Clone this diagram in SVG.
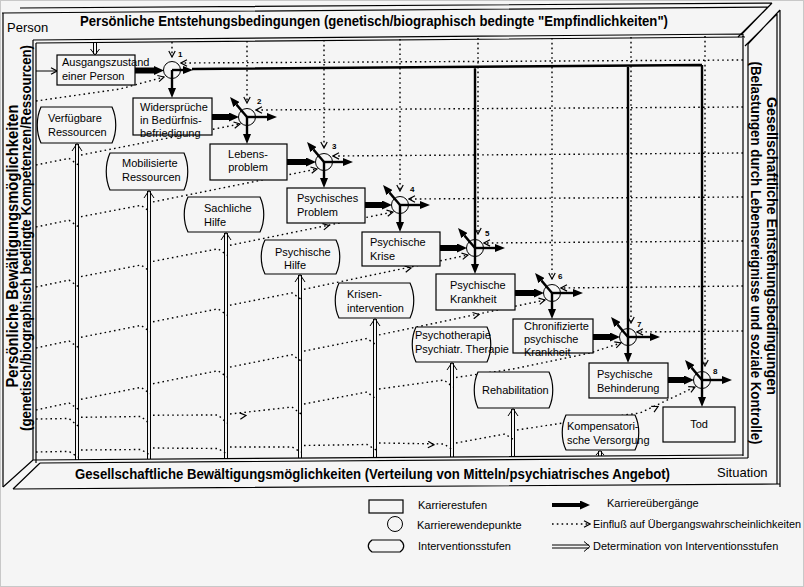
<svg xmlns="http://www.w3.org/2000/svg" width="804" height="587" viewBox="0 0 804 587">
<defs>
<style>
.k{fill:#f5f5f5;stroke:#000;stroke-width:1.2}
.t{font-family:"Liberation Sans",Arial,sans-serif;font-size:11px;fill:#000}
.n{font-family:"Liberation Sans",Arial,sans-serif;font-size:8px;font-weight:bold;fill:#000}
.h{font-family:"Liberation Sans",Arial,sans-serif;font-weight:bold;fill:#000}
.r{font-family:"Liberation Sans",Arial,sans-serif;font-size:13px;fill:#000}
.fr{fill:none;stroke:#000;stroke-width:1.2}
.dot{fill:none;stroke:#000;stroke-width:1.4;stroke-dasharray:1.6 3.2}
.dv{marker-end:url(#dv)}
.dm{fill:none;stroke:none;marker-end:url(#dv)}
.bar{fill:none;stroke:#000;stroke-width:6;marker-end:url(#ahb)}
.arr{fill:none;stroke:#000;stroke-width:2.4;marker-end:url(#ah)}
.ln{fill:none;stroke:#000;stroke-width:2.4}
.thin{fill:none;stroke:#000;stroke-width:1}
.c{fill:none;stroke:#000;stroke-width:1}
</style>
<marker id="dv" viewBox="0 0 8 8" refX="7" refY="4" markerWidth="8" markerHeight="8" markerUnits="userSpaceOnUse" orient="auto"><path d="M1,0.8 L7,4 L1,7.2" fill="none" stroke="#000" stroke-width="1.2"/></marker>
<marker id="ah" viewBox="0 0 10 8" refX="0" refY="4" markerWidth="10" markerHeight="8" markerUnits="userSpaceOnUse" orient="auto"><path d="M0,0 L10,4 L0,8 z" fill="#000"/></marker>
<marker id="ahb" viewBox="0 0 10 9" refX="0" refY="4.5" markerWidth="10" markerHeight="9" markerUnits="userSpaceOnUse" orient="auto"><path d="M0,0 L10,4.5 L0,9 z" fill="#000"/></marker>
</defs>
<rect width="804" height="587" fill="#f5f5f5"/>
<rect x="0.5" y="0.5" width="803" height="586" fill="none" stroke="#c8c8c8"/>

<g id="frame">
<path class="fr" d="M20,8 L772,3 M2,13 L768,7 M772,3 L741,35 M768,7 L738,37"/>
<path class="fr" d="M780,10 L780,487 M777,14 L777,484 M780,10 L748,44 M777,14 L745,46"/>
<path class="fr" d="M33,40 L743,34 M36,43 L745,37 M743,34 L743,456 M748,44 L748,458"/>
<path class="fr" d="M3,13 L3,487 M33,40 L33,460 M36,43 L36,463"/>
<path class="fr" d="M33,460 L743,455 M40,463 L748,458 M13,489 L780,484 M3,487 L33,460 M13,489 L40,463"/>
<text class="h" font-size="14" x="80" y="26" textLength="588" lengthAdjust="spacingAndGlyphs">Persönliche Entstehungsbedingungen (genetisch/biographisch bedingte "Empfindlichkeiten")</text>
<text class="h" font-size="14" x="75" y="479" textLength="595" lengthAdjust="spacingAndGlyphs">Gesellschaftliche Bewältigungsmöglichkeiten (Verteilung von Mitteln/psychiatrisches Angebot)</text>
<text class="h" font-size="16" transform="translate(18,246) rotate(-90)" text-anchor="middle" textLength="283" lengthAdjust="spacingAndGlyphs">Persönliche Bewältigungsmöglichkeiten</text>
<text class="h" font-size="14" transform="translate(31,238) rotate(-90)" text-anchor="middle" textLength="386" lengthAdjust="spacingAndGlyphs">(genetisch/biographisch bedingte Kompetenzen/Ressourcen)</text>
<text class="h" font-size="15" transform="translate(767,246) rotate(90)" text-anchor="middle" textLength="298" lengthAdjust="spacingAndGlyphs">Gesellschaftliche Entstehungsbedingungen</text>
<text class="h" font-size="14" transform="translate(751,253) rotate(90)" text-anchor="middle" textLength="383" lengthAdjust="spacingAndGlyphs">(Belastungen durch Lebensereignisse und soziale Kontrolle)</text>
<text class="r" x="7" y="32">Person</text>
<text class="r" x="717" y="477">Situation</text>
</g>

<g id="connectors">
<path class="dot dv" d="M172,42 L172,57"/>
<path class="dot dv" d="M247,41 L247,103"/>
<path class="dot dv" d="M324,40 L324,148"/>
<path class="dot dv" d="M400,39 L400,191"/>
<path class="dot dv" d="M478,38 L478,234"/>
<path class="dot dv" d="M552,38 L552,279"/>
<path class="dot dv" d="M631,37 L631,323"/>
<path class="dot dv" d="M705,36 L705,366"/>
<path class="dot dv" d="M743,60 L181,63"/>
<path class="dot dv" d="M743,107 L256,110"/>
<path class="dot dv" d="M743,153 L333,156"/>
<path class="dot dv" d="M743,197 L409,199"/>
<path class="dot dv" d="M743,241 L484,243"/>
<path class="dot dv" d="M743,286 L561,288"/>
<path class="dot dv" d="M743,331 L637,332"/>
<path class="dot dv" d="M36,101 L120,89 L164,77"/>
<path class="dot dv" d="M36,165 L69,158.4 L78,164.8 M81,155 L240,124"/>
<path class="dot dv" d="M36,227 L69,220.2 L78,226.5 M81,216.7 L141,205.3 L150,211.7 M153,201.9 L317,169"/>
<path class="dot dv" d="M36,287 L69,280.1 L78,286.4 M81,276.6 L141,265 L150,271.3 M153,261.4 L218,248.8 L227,255.1 M230,245.3 L393,212"/>
<path class="dot dv" d="M36,348 L69,340.9 L78,347.2 M81,337.3 L141,325.4 L150,331.7 M153,321.8 L218,308.8 L227,315.1 M230,305.2 L292,292.9 L301,299.2 M304,289.3 L468,255"/>
<path class="dot dv" d="M36,410 L69,402.9 L78,409.1 M81,399.3 L141,387.3 L150,393.6 M153,383.7 L218,370.7 L227,376.9 M230,367.1 L292,354.7 L301,360.9 M304,351.1 L367,338.5 L376,344.7 M379,334.9 L545,300"/>
<path class="dot dv" d="M36,419 L69,418.5 L78,426 M81,417.3 L141,416.5 L150,424 M153,415.2 L218,415 L227,423 M230,414 L292,407 L301,414 M304,404 L367,392 L376,399 M379,389 L444,380 L453,387 M456,377.5 L513,369 L590,353 L621,343"/>
<path class="dot dv" d="M36,452 L69,451.4 L78,457 M81,450 L141,449.5 L150,455 M153,448 L218,448.5 L227,454 M230,447 L292,447 L301,452 M304,445.5 L367,444.5 L376,450 M379,443 L444,444 L453,450 M456,443 L505,434 L514,440 M517,430 L563,423 L640,413 L695,387"/>
<path class="dm" d="M241,416 L246,415.5"/>
<path class="dm" d="M429,444.6 L434,444.9"/>
<path class="dm" d="M652,409.5 L658,406.5"/>
<path class="dm" d="M324,226.6 L329,225.5"/>
<path class="dm" d="M406,269 L411,268"/>
<path class="dm" d="M474,315.5 L479,314.5"/>
<path class="thin dv" d="M36,71 L57,71"/>
<path class="thin" d="M93.5,42 V54 M96.5,42 V54 M90.5,49 L95,55 L99.5,49"/>
<path class="thin" d="M75.5,460 V144 M78.5,460 V144 M72,151 L77,143.5 L82,151"/>
<path class="thin" d="M147.5,459 V191 M150.5,459 V191 M144,198 L149,190.5 L154,198"/>
<path class="thin" d="M224.5,459 V233 M227.5,459 V233 M221,240 L226,232.5 L231,240"/>
<path class="thin" d="M298.5,458 V275 M301.5,458 V275 M295,282 L300,274.5 L305,282"/>
<path class="thin" d="M373.5,458 V319 M376.5,458 V319 M370,326 L375,318.5 L380,326"/>
<path class="thin" d="M450.5,457 V363 M453.5,457 V363 M447,370 L452,362.5 L457,370"/>
<path class="thin" d="M511.5,457 V409 M514.5,457 V409 M508,416 L513,408.5 L518,416"/>
<path class="thin" d="M598.5,456 V451 M601.5,456 V451 M596,455 L600,450.5 L604,455"/>
<path class="bar" d="M135,70.5 L154,70.5"/>
<path class="bar" d="M212,117 L229,117"/>
<path class="bar" d="M287,162 L306,162"/>
<path class="bar" d="M365,205 L382,205"/>
<path class="bar" d="M440,248 L457,248"/>
<path class="bar" d="M515,293 L534,293"/>
<path class="bar" d="M593,337 L610,337"/>
<path class="bar" d="M668,380 L684,380"/>
<path class="arr" d="M172,70 L172,88"/>
<path class="arr" d="M247,117 L247,134"/>
<path class="arr" d="M324,162 L324,178"/>
<path class="arr" d="M400,205 L400,222"/>
<path class="arr" d="M475,248 L475,264"/>
<path class="arr" d="M552,293 L552,309"/>
<path class="arr" d="M628,337 L628,353"/>
<path class="arr" d="M702,380 L702,397"/>
<path class="arr" d="M172,70 L183,70"/>
<path class="arr" d="M247,117 L267,117"/>
<path class="arr" d="M324,162 L343,162"/>
<path class="arr" d="M400,205 L420,205"/>
<path class="arr" d="M475,248 L495,248"/>
<path class="arr" d="M552,293 L573,293"/>
<path class="arr" d="M628,337 L650,337"/>
<path class="arr" d="M702,380 L722,380"/>
<path class="arr" d="M247,117 L236.5,104.6"/>
<path class="arr" d="M324,162 L313.5,149.6"/>
<path class="arr" d="M400,205 L389.5,192.6"/>
<path class="arr" d="M475,248 L464.5,235.6"/>
<path class="arr" d="M552,293 L541.5,280.6"/>
<path class="arr" d="M628,337 L617.5,324.6"/>
<path class="arr" d="M702,380 L691.5,367.6"/>
<path class="ln" d="M192,69 L702,65 M475,67.5 L475,248 M628,66 L628,337 M702,65 L702,380"/>
</g>

<g id="turning-points">
<circle class="c" cx="172" cy="70" r="8.5"/><text class="n" x="178" y="57">1</text>
<circle class="c" cx="247" cy="117" r="8.5"/><text class="n" x="257" y="104">2</text>
<circle class="c" cx="324" cy="162" r="8.5"/><text class="n" x="332" y="149">3</text>
<circle class="c" cx="400" cy="205" r="8.5"/><text class="n" x="410" y="192">4</text>
<circle class="c" cx="475" cy="248" r="8.5"/><text class="n" x="485" y="236">5</text>
<circle class="c" cx="552" cy="293" r="8.5"/><text class="n" x="558" y="279">6</text>
<circle class="c" cx="628" cy="337" r="8.5"/><text class="n" x="637" y="327">7</text>
<circle class="c" cx="702" cy="380" r="8.5"/><text class="n" x="713" y="374">8</text>
</g>

<g id="n-ausgangszustand"><rect class="k" x="57" y="55" width="78" height="30"/><text class="t" x="62" y="66">Ausgangszustand</text><text class="t" x="62" y="80">einer Person</text></g>
<g id="n-widersprueche"><rect class="k" x="133" y="98" width="79" height="37"/><text class="t" x="140" y="111">Widersprüche</text><text class="t" x="140" y="124">in Bedürfnis-</text><text class="t" x="140" y="137">befriedigung</text></g>
<g id="n-lebensproblem"><rect class="k" x="210" y="144" width="77" height="36"/><text class="t" x="248" y="158" text-anchor="middle">Lebens-</text><text class="t" x="248" y="171" text-anchor="middle">problem</text></g>
<g id="n-psychisches-problem"><rect class="k" x="287" y="188" width="78" height="35"/><text class="t" x="297" y="202">Psychisches</text><text class="t" x="297" y="216">Problem</text></g>
<g id="n-psychische-krise"><rect class="k" x="362" y="232" width="78" height="34"/><text class="t" x="370" y="246">Psychische</text><text class="t" x="370" y="260">Krise</text></g>
<g id="n-psychische-krankheit"><rect class="k" x="436" y="274" width="79" height="36"/><text class="t" x="450" y="289">Psychische</text><text class="t" x="450" y="303">Krankheit</text></g>
<g id="n-chronifizierte"><rect class="k" x="513" y="319" width="80" height="34"/><text class="t" x="524" y="330">Chronifizierte</text><text class="t" x="524" y="343">psychische</text><text class="t" x="524" y="356">Krankheit</text></g>
<g id="n-behinderung"><rect class="k" x="589" y="363" width="79" height="35"/><text class="t" x="597" y="378">Psychische</text><text class="t" x="597" y="392">Behinderung</text></g>
<g id="n-tod"><rect class="k" x="663" y="407" width="72" height="35"/><text class="t" x="699" y="428" text-anchor="middle">Tod</text></g>

<g id="i-verfuegbare"><path class="k" d="M41,107 H112 C117,117.8 117,132.2 112,143 H41 C36,132.2 36,117.8 41,107 Z"/><text class="t" x="48" y="122">Verfügbare</text><text class="t" x="48" y="136">Ressourcen</text></g>
<g id="i-mobilisierte"><path class="k" d="M110,153 H184 C189,164.1 189,178.9 184,190 H110 C105,178.9 105,164.1 110,153 Z"/><text class="t" x="122" y="167">Mobilisierte</text><text class="t" x="122" y="181">Ressourcen</text></g>
<g id="i-sachliche"><path class="k" d="M188,197 H260 C265,207.5 265,221.5 260,232 H188 C183,221.5 183,207.5 188,197 Z"/><text class="t" x="204" y="212">Sachliche</text><text class="t" x="204" y="226">Hilfe</text></g>
<g id="i-psychische-hilfe"><path class="k" d="M265,240 H336 C341,250.2 341,263.8 336,274 H265 C260,263.8 260,250.2 265,240 Z"/><text class="t" x="275" y="256">Psychische</text><text class="t" x="284" y="269">Hilfe</text></g>
<g id="i-krisenintervention"><path class="k" d="M339,283 H410 C415,293.5 415,307.5 410,318 H339 C334,307.5 334,293.5 339,283 Z"/><text class="t" x="347" y="298">Krisen-</text><text class="t" x="347" y="312">intervention</text></g>
<g id="i-psychotherapie"><path class="k" d="M416,327 H487 C492,337.5 492,351.5 487,362 H416 C411,351.5 411,337.5 416,327 Z"/><text class="t" x="415" y="339">Psychotherapie</text><text class="t" x="415" y="353">Psychiatr. Therapie</text></g>
<g id="i-rehabilitation"><path class="k" d="M478,372 H549 C554,382.8 554,397.2 549,408 H478 C473,397.2 473,382.8 478,372 Z"/><text class="t" x="482" y="394">Rehabilitation</text></g>
<g id="i-kompensatorische"><path class="k" d="M566,415 H635 C640,425.5 640,439.5 635,450 H566 C561,439.5 561,425.5 566,415 Z"/><text class="t" x="567" y="430">Kompensatori-</text><text class="t" x="567" y="444">sche Versorgung</text></g>

<g id="legend">
<rect class="k" x="369" y="500" width="34" height="13"/>
<text class="t" x="418" y="509">Karrierestufen</text>
<circle class="c" cx="395" cy="524" r="7.5"/>
<text class="t" x="417" y="529">Karrierewendepunkte</text>
<path class="k" d="M372,540 H400 C405,543.6 405,548.4 400,552 H372 C367,548.4 367,543.6 372,540 Z"/>
<text class="t" x="418" y="550">Interventionsstufen</text>
<path d="M552,505 L580,505" fill="none" stroke="#000" stroke-width="4" marker-end="url(#ahb)"/>
<text class="t" x="607" y="507">Karriereübergänge</text>
<path class="dot dv" d="M552,524 L590,524"/>
<text class="t" x="593" y="528" textLength="208" lengthAdjust="spacingAndGlyphs">Einfluß auf Übergangswahrscheinlichkeiten</text>
<path class="thin" d="M552,545 H589 M552,548 H589 M584,541.5 L590,546.5 L584,551.5"/>
<text class="t" x="593" y="550">Determination von Interventionsstufen</text>
</g>
</svg>
